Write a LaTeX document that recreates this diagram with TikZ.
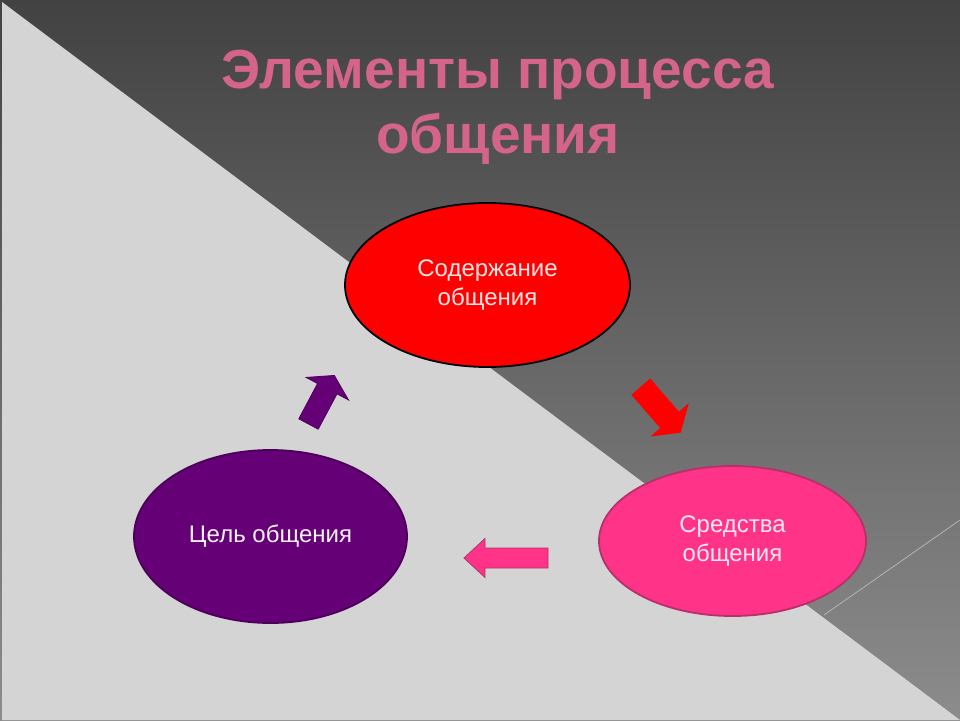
\documentclass[tikz,border=0pt]{standalone}
\usepackage{fontspec}
\setmainfont{Liberation Sans}
\usepackage{tikz}
\usetikzlibrary{shapes.geometric}
\definecolor{bgtop}{HTML}{424242}
\definecolor{bgbottom}{HTML}{8C8C8C}
\definecolor{bglight}{HTML}{D4D4D4}
\definecolor{bgline}{HTML}{B4B4B4}
\definecolor{titlepink}{HTML}{D4648A}
\definecolor{ovalred}{HTML}{FF0000}
\definecolor{ovalpink}{HTML}{FF3388}
\definecolor{edgepink}{HTML}{B8306A}
\definecolor{ovalpurple}{HTML}{660077}
\definecolor{edgepurple}{HTML}{4D005A}

\begin{document}
\begin{tikzpicture}[x=1pt, y=-1pt,
  oval/.style={ellipse, inner sep=0pt, align=center, line width=1.8pt,
    font=\fontsize{24}{29}\selectfont},
  blockarrow/.style={line width=0.8pt, line join=miter}]

\useasboundingbox (0, 0) rectangle (960, 720);
\shade[top color=bgtop, bottom color=bgbottom] (0, 0) rectangle (960, 720);
\fill[bglight] (2, 2) -- (960, 720) -- (2, 720) -- cycle;
\draw[bgline, line width=0.8pt] (824, 615) -- (960, 520);

\node[text=titlepink, align=center, font=\fontsize{55}{65}\selectfont\bfseries] (title) at (498, 107) {Элементы процесса\\общения};

\node[oval, fill=ovalred, draw=black, text=red!10, minimum width=285pt, minimum height=164pt] (content) at (487.5, 285) {Содержание\\общения};
\node[oval, fill=ovalpink, draw=edgepink, text=ovalpink!12, minimum width=267pt, minimum height=150pt] (means) at (732.5, 541) {Средства\\общения};
\node[oval, fill=ovalpurple, draw=edgepurple, text=ovalpurple!6, minimum width=273pt, minimum height=173pt] (goal) at (270.5, 536.5) {Цель общения};

\draw[blockarrow, fill=ovalred, draw=ovalred, shift={(641, 387)}, rotate=-49]
  (0, -12) -- (44, -12) -- (44, -24) -- (60, 0) -- (44, 24) -- (44, 12) -- (0, 12) -- cycle;
\draw[blockarrow, fill=ovalpink, draw=edgepink, shift={(548, 558)}, rotate=180]
  (0, -10) -- (63, -10) -- (63, -19.5) -- (84, 0) -- (63, 19.5) -- (63, 10) -- (0, 10) -- cycle;
\draw[blockarrow, fill=ovalpurple, draw=edgepurple, shift={(308.5, 424)}, rotate=62]
  (0, -11) -- (40, -11) -- (40, -24) -- (55, 0) -- (40, 24) -- (40, 11) -- (0, 11) -- cycle;

\end{tikzpicture}
\end{document}
